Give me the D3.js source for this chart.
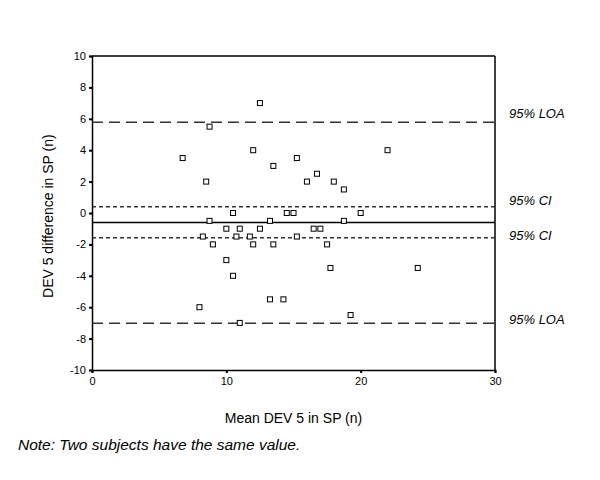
<!DOCTYPE html>
<html>
<head>
<meta charset="utf-8">
<script src="https://cdn.jsdelivr.net/npm/d3@7"></script>
<style>
  body { margin: 0; background: #fff; }
  text { font-family: "Liberation Sans", Arial, Helvetica, sans-serif; }
  .axis path, .axis line { stroke: #000; }
  .axis text { font-size: 11px; fill: #000; }
</style>
</head>
<body>
<script>
// Bland-Altman plot, DEV 5 in SP

var meanVals = [6.75, 8.75, 8.5, 10.5, 12.5, 12, 15.25, 13.5, 16.75, 16, 18, 18.75, 22,
                14.5, 15, 20, 8.75, 10, 11, 8.25, 10.75, 9, 10, 10.5, 8, 11,
                13.25, 18.75, 12.5, 16.5, 17, 11.75, 15.25, 12, 13.5, 17.5,
                17.75, 13.25, 14.25, 19.25, 24.25];
var diffVals = [3.5, 5.5, 2, 0, 7, 4, 3.5, 3, 2.5, 2, 2, 1.5, 4,
                0, 0, 0, -0.5, -1, -1, -1.5, -1.5, -2, -3, -4, -6, -7,
                -0.5, -0.5, -1, -1, -1, -1.5, -1.5, -2, -2, -2,
                -3.5, -5.5, -5.5, -6.5, -3.5];

var refNames = ["95% LOA", "95% CI", "mean", "95% CI", "95% LOA"];
var refValues = [5.78, 0.4, -0.6, -1.58, -7.03];
var refKinds = ["loa", "ci", "mean", "ci", "loa"];

var xTicks = [0, 10, 20, 30];
var yTicks = [-10, -8, -6, -4, -2, 0, 2, 4, 6, 8, 10];

var margin = {top: 56, right: 105, bottom: 110, left: 92},
    width = 600 - margin.left - margin.right,
    height = 480 - margin.top - margin.bottom;

var x = d3.scaleLinear().domain([0, 30]).range([0, width]);
var y = d3.scaleLinear().domain([-10, 10]).range([height, 0]);

var svg = d3.select("body").append("svg")
    .attr("width", 600)
    .attr("height", 480)
  .append("g")
    .attr("transform", "translate(" + margin.left + "," + margin.top + ")");

// frame: top and right
svg.append("line")
    .attr("x1", 0).attr("x2", width).attr("y1", 0).attr("y2", 0)
    .attr("stroke", "#000").attr("stroke-width", 1.5);
svg.append("line")
    .attr("x1", width).attr("x2", width).attr("y1", 0).attr("y2", height)
    .attr("stroke", "#000").attr("stroke-width", 1.5);

// reference lines
var dash = {loa: "11,6", ci: "4,3", mean: null};
svg.selectAll(".ref")
    .data(refValues)
    .enter()
  .append("line")
    .attr("class", "ref")
    .attr("x1", 0).attr("x2", width)
    .attr("y1", function(d) { return y(d); })
    .attr("y2", function(d) { return y(d); })
    .attr("stroke", function(d, i) { return refKinds[i] == "mean" ? "#000" : "#333"; })
    .attr("stroke-width", 1.5)
    .attr("stroke-dasharray", function(d, i) { return dash[refKinds[i]]; });

var labelShift = [-4, -2, 0, 2, 1];
svg.selectAll(".ref-label")
    .data(refValues.filter(function(d, i) { return refKinds[i] != "mean"; }))
    .enter()
  .append("text")
    .attr("class", "ref-label")
    .attr("x", width + 14)
    .attr("y", function(d) {
      var i = refValues.indexOf(d);
      return y(d) + labelShift[i];
    })
    .attr("font-size", "13px")
    .attr("font-style", "italic")
    .text(function(d) { return refNames[refValues.indexOf(d)]; });

// axes (plain hyphen for negatives, like the original)
var fmt = function(d) { return String(d); };
var xAxis = d3.axisBottom(x).tickValues(xTicks).tickFormat(fmt).tickSize(3).tickPadding(4);
var yAxis = d3.axisLeft(y).tickValues(yTicks).tickFormat(fmt).tickSize(3).tickPadding(3);

svg.append("g")
    .attr("class", "x axis")
    .attr("transform", "translate(0," + height + ")")
    .call(xAxis)
    .call(function(g) {
      g.select(".domain").attr("stroke-width", 1.5);
      g.selectAll(".tick line").attr("stroke-width", 2);
    });

svg.append("g")
    .attr("class", "y axis")
    .call(yAxis)
    .call(function(g) {
      g.select(".domain").attr("stroke-width", 1.5);
      g.selectAll(".tick line").attr("stroke-width", 2);
    });

// points
var pts = meanVals.map(function(m, i) { return {m: m, d: diffVals[i]}; });
svg.selectAll(".dot")
    .data(pts)
    .enter()
  .append("rect")
    .attr("class", "dot")
    .attr("x", function(p) { return x(p.m) - 2.5; })
    .attr("y", function(p) { return y(p.d) - 2.5; })
    .attr("width", 5)
    .attr("height", 5)
    .attr("fill", "#fff")
    .attr("stroke", "#000")
    .attr("stroke-width", 1);

// titles
svg.append("text")
    .attr("x", width / 2)
    .attr("y", height + 53)
    .attr("text-anchor", "middle")
    .attr("font-size", "14px")
    .text("Mean DEV 5 in SP (n)");

svg.append("text")
    .attr("transform", "translate(" + (-39) + "," + (y(-0.2)) + ") rotate(-90)")
    .attr("text-anchor", "middle")
    .attr("font-size", "14px")
    .text("DEV 5 difference in SP (n)");

d3.select("svg").append("text")
    .attr("x", 18)
    .attr("y", 450)
    .attr("font-size", "15.5px")
    .attr("font-style", "italic")
    .text("Note: Two subjects have the same value.");
</script>
</body>
</html>
